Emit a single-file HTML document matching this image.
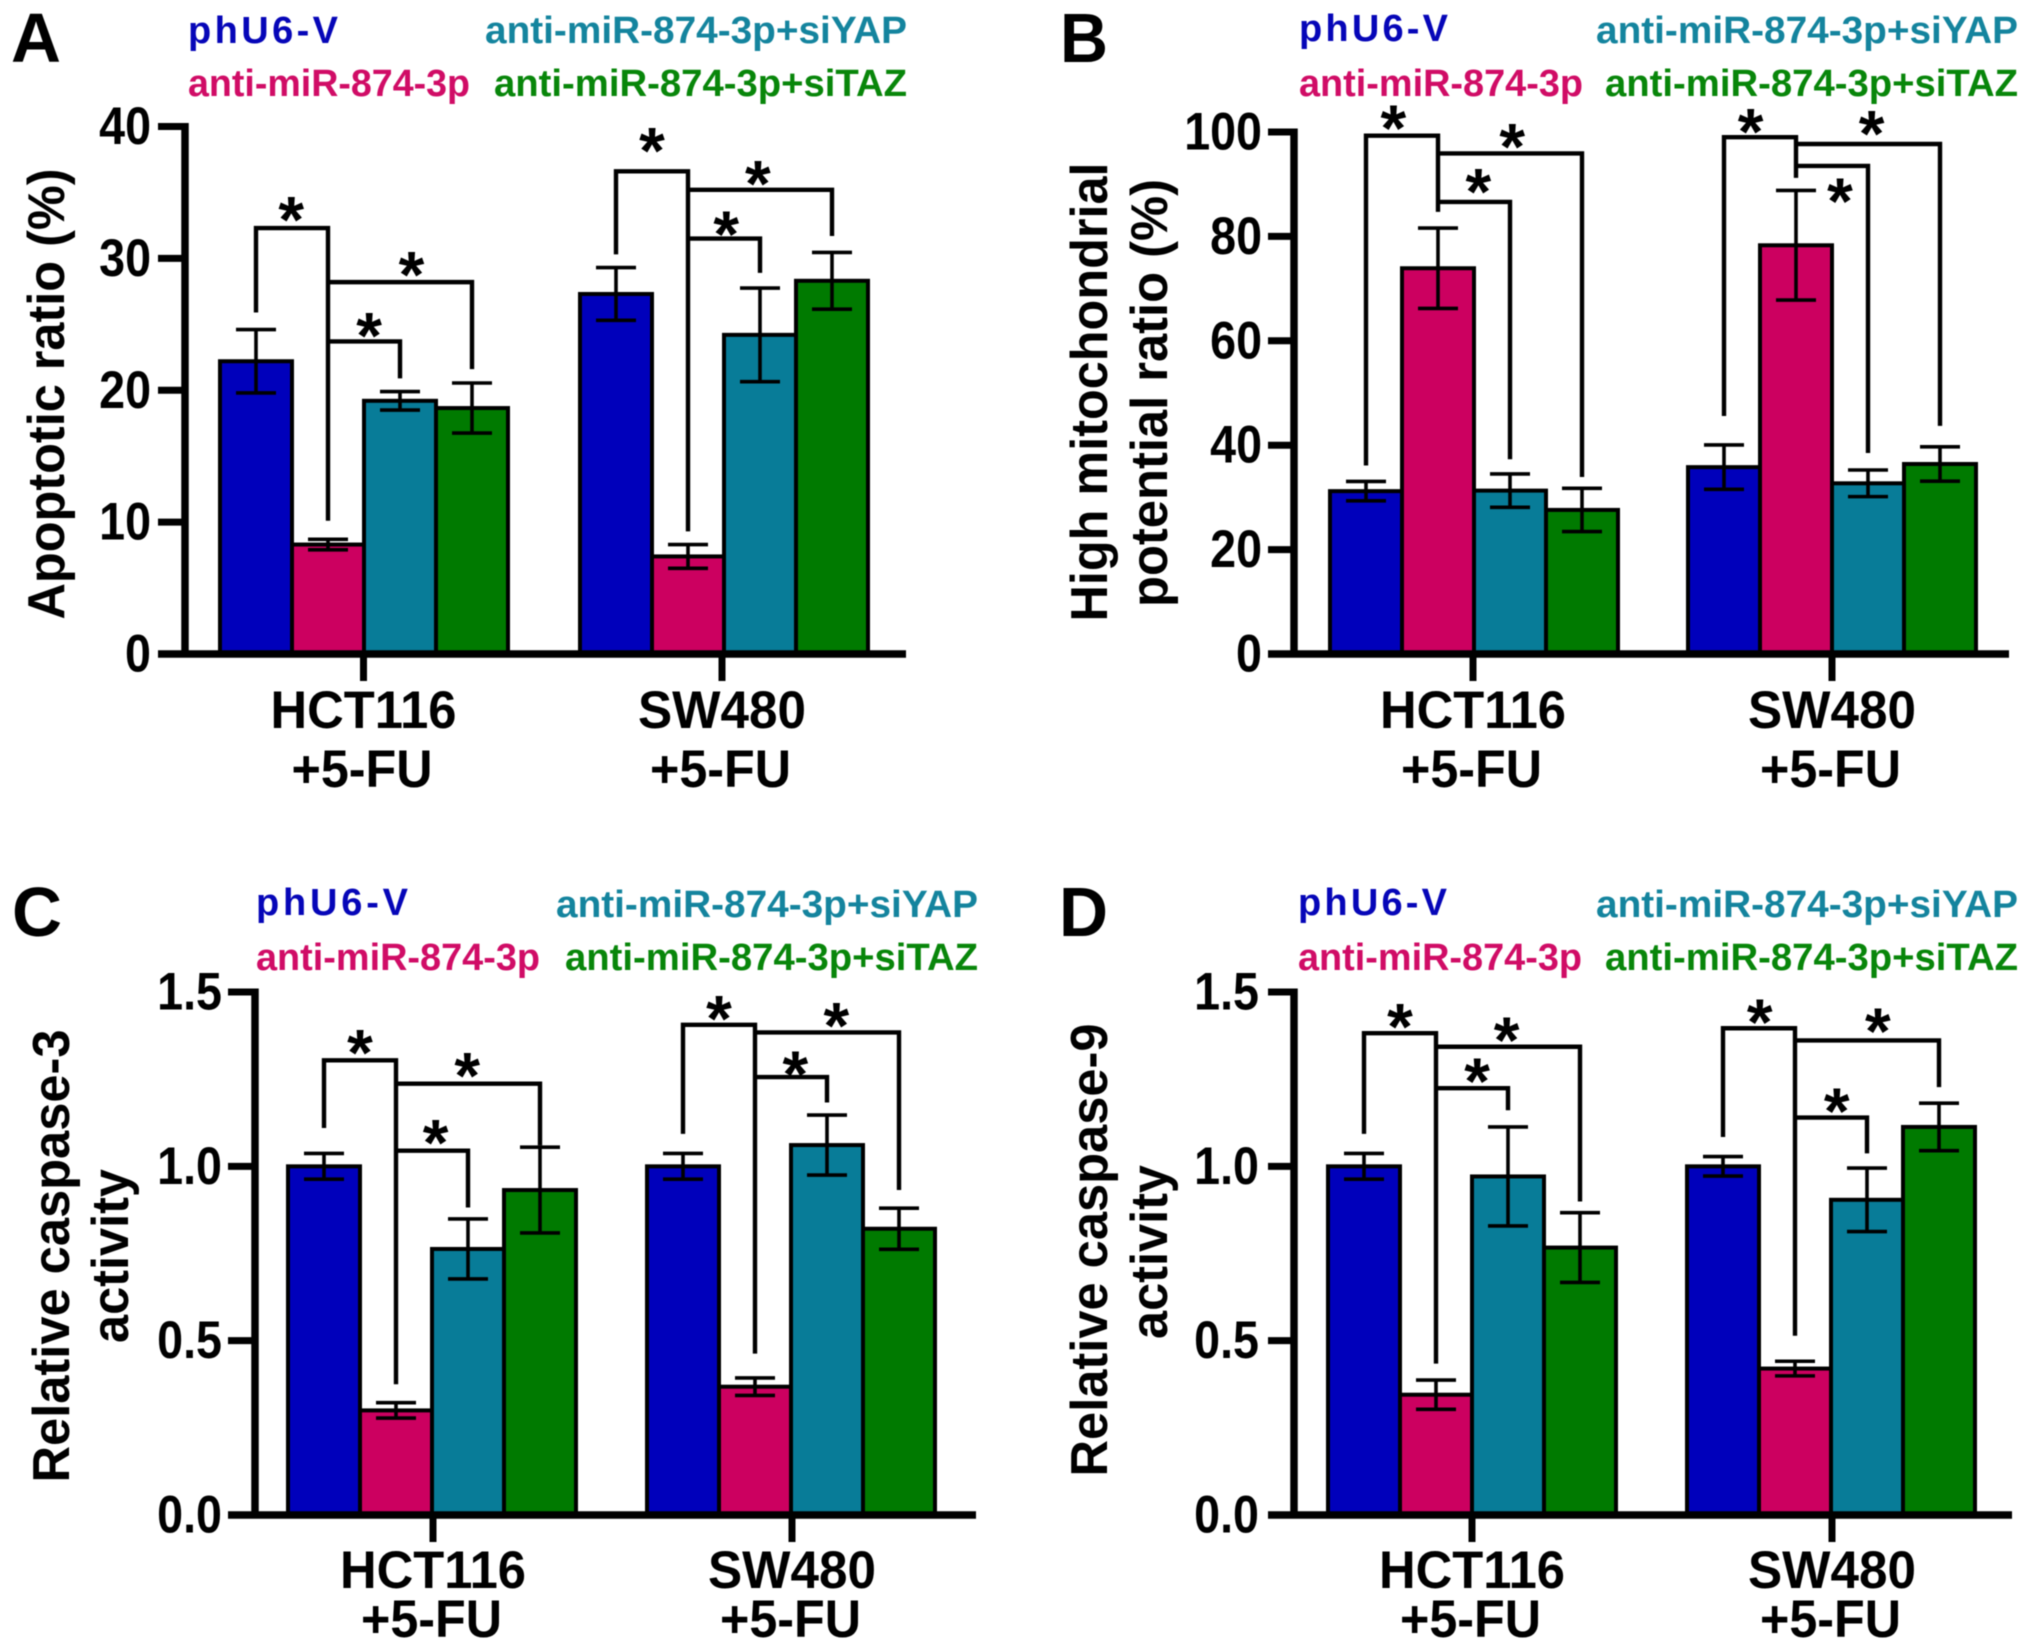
<!DOCTYPE html>
<html lang="en">
<head>
<meta charset="utf-8">
<title>Apoptosis, mitochondrial potential and caspase activity bar charts</title>
<style>
html,body{margin:0;padding:0;background:#fff;}
svg{display:block;font-family:"Liberation Sans",sans-serif;font-weight:700;filter:blur(0.6px);}
.letter{font-size:70px;fill:#000;}
.leg{font-size:38px;}
.blue{fill:#0606b8;}
.pink{fill:#d00c66;}
.teal{fill:#14849e;}
.green{fill:#08860a;}
.ytitle{font-size:52px;fill:#000;text-anchor:middle;}
</style>
</head>
<body>
<svg id="fig" xmlns="http://www.w3.org/2000/svg" width="2031" height="1650" viewBox="0 0 2031 1650">
  <rect width="2031" height="1650" fill="#fff"/>

  <g id="panel-a">
    <text class="letter" x="11" y="62" textLength="50" lengthAdjust="spacingAndGlyphs">A</text>
    <text class="leg blue" x="188" y="43" textLength="150" lengthAdjust="spacing">phU6-V</text>
    <text class="leg pink" x="188" y="96" textLength="282" lengthAdjust="spacingAndGlyphs">anti-miR-874-3p</text>
    <text class="leg teal" x="485" y="43" textLength="422" lengthAdjust="spacingAndGlyphs">anti-miR-874-3p+siYAP</text>
    <text class="leg green" x="494" y="96" textLength="413" lengthAdjust="spacingAndGlyphs">anti-miR-874-3p+siTAZ</text>
    <text class="ytitle" transform="translate(64,394) rotate(-90)" textLength="451" lengthAdjust="spacingAndGlyphs">Apoptotic ratio (%)</text>
  </g>

  <g id="panel-b">
    <text class="letter" x="1060" y="62" textLength="48" lengthAdjust="spacingAndGlyphs">B</text>
    <text class="leg blue" x="1299" y="41" textLength="149" lengthAdjust="spacing">phU6-V</text>
    <text class="leg pink" x="1299" y="96" textLength="284" lengthAdjust="spacingAndGlyphs">anti-miR-874-3p</text>
    <text class="leg teal" x="1596" y="43" textLength="422" lengthAdjust="spacingAndGlyphs">anti-miR-874-3p+siYAP</text>
    <text class="leg green" x="1605" y="96" textLength="413" lengthAdjust="spacingAndGlyphs">anti-miR-874-3p+siTAZ</text>
    <text class="ytitle" transform="translate(1107,392) rotate(-90)" textLength="459" lengthAdjust="spacingAndGlyphs">High mitochondrial</text>
    <text class="ytitle" transform="translate(1167,393) rotate(-90)" textLength="428" lengthAdjust="spacingAndGlyphs">potential ratio (%)</text>
  </g>

  <g id="panel-c">
    <text class="letter" x="12" y="936" textLength="50" lengthAdjust="spacingAndGlyphs">C</text>
    <text class="leg blue" x="256" y="915" textLength="152" lengthAdjust="spacing">phU6-V</text>
    <text class="leg pink" x="256" y="970" textLength="284" lengthAdjust="spacingAndGlyphs">anti-miR-874-3p</text>
    <text class="leg teal" x="556" y="917" textLength="422" lengthAdjust="spacingAndGlyphs">anti-miR-874-3p+siYAP</text>
    <text class="leg green" x="565" y="970" textLength="413" lengthAdjust="spacingAndGlyphs">anti-miR-874-3p+siTAZ</text>
    <text class="ytitle" transform="translate(69,1256) rotate(-90)" textLength="453" lengthAdjust="spacingAndGlyphs">Relative caspase-3</text>
    <text class="ytitle" transform="translate(128,1256) rotate(-90)" textLength="174" lengthAdjust="spacingAndGlyphs">activity</text>
  </g>

  <g id="panel-d">
    <text class="letter" x="1059" y="936" textLength="49" lengthAdjust="spacingAndGlyphs">D</text>
    <text class="leg blue" x="1298" y="915" textLength="149" lengthAdjust="spacing">phU6-V</text>
    <text class="leg pink" x="1298" y="970" textLength="284" lengthAdjust="spacingAndGlyphs">anti-miR-874-3p</text>
    <text class="leg teal" x="1596" y="917" textLength="422" lengthAdjust="spacingAndGlyphs">anti-miR-874-3p+siYAP</text>
    <text class="leg green" x="1605" y="970" textLength="413" lengthAdjust="spacingAndGlyphs">anti-miR-874-3p+siTAZ</text>
    <text class="ytitle" transform="translate(1107,1250) rotate(-90)" textLength="453" lengthAdjust="spacingAndGlyphs">Relative caspase-9</text>
    <text class="ytitle" transform="translate(1167,1252) rotate(-90)" textLength="174" lengthAdjust="spacingAndGlyphs">activity</text>
  </g>
</svg>

<script>
/* ---------- shared categories ---------- */
const categories = ['HCT116', 'SW480'];
const categorySubLabel = '+5-FU';
const barColors = ['#0000bb', '#cc0060', '#087c98', '#007a00'];

/* ---------- panel A: apoptotic ratio ---------- */
const apoptosisTicks = [0, 10, 20, 30, 40];
const apoptosisTickLabels = ['0', '10', '20', '30', '40'];
const apoptosisHct = [22.2, 8.3, 19.2, 18.65];
const apoptosisHctErr = [2.4, 0.4, 0.7, 1.9];
const apoptosisSw = [27.3, 7.4, 24.2, 28.3];
const apoptosisSwErr = [2.0, 0.9, 3.55, 2.15];
const apoptosisHctBracketLevels = [32.3, 23.7, 28.2];
const apoptosisHctBracketEnds = [[25.9, 10.1], [23.7, 20.9], [28.2, 21.6]];
const apoptosisHctStarLevels = [33.8, 25.0, 29.6];
const apoptosisHctStarAt = [0.49, 1.57, 2.16];
const apoptosisSwBracketLevels = [36.6, 31.5, 35.2];
const apoptosisSwBracketEnds = [[30.3, 9.3], [31.5, 28.9], [35.2, 31.7]];
const apoptosisSwStarLevels = [39.0, 32.7, 36.5];
const apoptosisSwStarAt = [0.5, 1.53, 1.97];

/* ---------- panel B: mitochondrial potential ---------- */
const mitoTicks = [0, 20, 40, 60, 80, 100];
const mitoTickLabels = ['0', '20', '40', '60', '80', '100'];
const mitoHct = [31.2, 73.9, 31.3, 27.6];
const mitoHctErr = [1.85, 7.7, 3.2, 4.15];
const mitoSw = [35.8, 78.3, 32.7, 36.4];
const mitoSwErr = [4.25, 10.5, 2.55, 3.3];
const mitoHctBracketLevels = [99.3, 86.6, 95.9];
const mitoHctBracketEnds = [[36.1, 84.7], [86.6, 37.3], [95.9, 33.9]];
const mitoHctStarLevels = [102.9, 90.7, 99.3];
const mitoHctStarAt = [0.38, 1.56, 2.03];
const mitoSwBracketLevels = [99.0, 93.5, 97.7];
const mitoSwBracketEnds = [[45.6, 91.2], [93.5, 38.5], [97.7, 43.7]];
const mitoSwStarLevels = [102.2, 88.9, 101.8];
const mitoSwStarAt = [0.37, 1.61, 2.05];

/* ---------- panel C: caspase-3 ---------- */
const caspaseTicks = [0, 0.5, 1, 1.5];
const caspaseTickLabels = ['0.0', '0.5', '1.0', '1.5'];
const casp3Hct = [1.0, 0.30, 0.763, 0.932];
const casp3HctErr = [0.037, 0.022, 0.086, 0.123];
const casp3Sw = [1.0, 0.368, 1.061, 0.821];
const casp3SwErr = [0.037, 0.025, 0.086, 0.059];
const casp3HctBracketLevels = [1.304, 1.045, 1.237];
const casp3HctBracketEnds = [[1.11, 0.375], [1.045, 0.882], [1.237, 1.06]];
const casp3HctStarLevels = [1.358, 1.10, 1.292];
const casp3HctStarAt = [0.5, 1.55, 1.99];
const casp3SwBracketLevels = [1.406, 1.256, 1.384];
const casp3SwBracketEnds = [[1.093, 0.463], [1.256, 1.183], [1.384, 0.932]];
const casp3SwStarLevels = [1.456, 1.296, 1.435];
const casp3SwStarAt = [0.5, 1.56, 2.13];

/* ---------- panel D: caspase-9 ---------- */
const casp9Hct = [1.0, 0.345, 0.971, 0.767];
const casp9HctErr = [0.037, 0.042, 0.142, 0.10];
const casp9Sw = [1.0, 0.42, 0.904, 1.113];
const casp9SwErr = [0.028, 0.021, 0.091, 0.068];
const casp9HctBracketLevels = [1.382, 1.224, 1.343];
const casp9HctBracketEnds = [[1.093, 0.434], [1.224, 1.161], [1.343, 0.899]];
const casp9HctStarLevels = [1.433, 1.277, 1.394];
const casp9HctStarAt = [0.5, 1.57, 1.98];
const casp9SwBracketLevels = [1.396, 1.14, 1.361];
const casp9SwBracketEnds = [[1.084, 0.514], [1.14, 1.037], [1.361, 1.227]];
const casp9SwStarLevels = [1.445, 1.19, 1.42];
const casp9SwStarAt = [0.51, 1.58, 2.15];

/* ---------- drawing ---------- */
const NS = 'http://www.w3.org/2000/svg';

function shape(parent, tag, attrs) {
  const el = document.createElementNS(NS, tag);
  for (const k in attrs) el.setAttribute(k, attrs[k]);
  parent.appendChild(el);
  return el;
}

function drawGroup(g, p, start, values, errs, levels, ends, starLevels, starAt, catIdx) {
  const y = p.y;
  const cx = function (i) { return start + p.barW * (i + 0.5); };

  values.forEach(function (v, i) {
    const bar = shape(g, 'rect', {x: start + p.barW * i, y: y(v), width: p.barW, height: p.y0 - y(v), fill: barColors[i], stroke: '#000', 'stroke-width': 4});
    
    
  });

  values.forEach(function (v, i) {
    const hi = y(v + errs[i]);
    const lo = y(v - errs[i]);
    const x = cx(i);
    const err = shape(g, 'path', {d: 'M' + x + ' ' + hi + 'V' + lo + 'M' + (x - 20) + ' ' + hi + 'H' + (x + 20) + 'M' + (x - 20) + ' ' + lo + 'H' + (x + 20), fill: 'none', stroke: '#000', 'stroke-width': 3.6});
    
    
  });

  const spans = [[0, 1], [1, 2], [1, 3]];
  spans.forEach(function (s, i) {
    const x0 = cx(s[0]);
    const x1 = cx(s[1]);
    const d = 'M' + x0 + ' ' + y(ends[i][0]) + 'V' + y(levels[i]) + 'H' + x1 + 'V' + y(ends[i][1]);
    const br = shape(g, 'path', {d: d, fill: 'none', stroke: '#000', 'stroke-width': 4.4});
    
    

    const star = shape(g, 'text', {x: start + p.barW * (starAt[i] + 0.5), y: y(starLevels[i]) + 34, 'text-anchor': 'middle', 'font-size': 66, fill: '#000'});
    
    
    star.textContent = '*';
  });
}

function drawPanel(p) {
  const g = document.getElementById(p.id);
  p.y = function (v) { return p.y0 - (v / p.yMax) * (p.y0 - p.yTop); };

  drawGroup(g, p, p.starts[0], p.hct, p.hctErr, p.hctLevels, p.hctEnds, p.hctStarLevels, p.hctStarAt, 0);
  drawGroup(g, p, p.starts[1], p.sw, p.swErr, p.swLevels, p.swEnds, p.swStarLevels, p.swStarAt, 1);

  const yAxis = shape(g, 'line', {x1: p.axisX, x2: p.axisX, y1: p.yTop - 3.5, y2: p.y0, stroke: '#000', 'stroke-width': 7.5});
  
  

  const xAxis = shape(g, 'line', {x1: p.tickLeft, x2: p.xEnd, y1: p.y0, y2: p.y0, stroke: '#000', 'stroke-width': 7.5});
  
  

  p.ticks.forEach(function (t, i) {
    const tick = shape(g, 'line', {x1: p.tickLeft, x2: p.axisX, y1: p.y(t), y2: p.y(t), stroke: '#000', 'stroke-width': 7});
    
    

    const label = shape(g, 'text', {transform: 'translate(' + p.labelRight + ',' + (p.y(t) + 17.5) + ') scale(0.88,1)', 'text-anchor': 'end', 'font-size': 53, fill: '#000'});
    
    
    label.textContent = p.tickLabels[i];
  });

  categories.forEach(function (c, i) {
    const tx = p.xTicks[i];
    const tick = shape(g, 'line', {x1: tx, x2: tx, y1: p.y0, y2: p.y0 + 27, stroke: '#000', 'stroke-width': 7});
    
    

    const name = shape(g, 'text', {x: tx, y: p.line1, 'text-anchor': 'middle', 'font-size': 53, fill: '#000', textLength: p.catWidths[i], lengthAdjust: 'spacingAndGlyphs'});
    
    
    name.textContent = c;

    const sub = shape(g, 'text', {x: tx - 1.5, y: p.line2, 'text-anchor': 'middle', 'font-size': 53, fill: '#000', textLength: 141, lengthAdjust: 'spacingAndGlyphs'});
    
    
    sub.textContent = categorySubLabel;
  });
}

drawPanel({
  id: 'panel-a', axisX: 185, y0: 654, yTop: 126.5, yMax: 40, tickLeft: 158, xEnd: 906, labelRight: 151,
  starts: [220, 580], barW: 72, xTicks: [363.5, 722], catWidths: [186, 168], line1: 728, line2: 787,
  ticks: apoptosisTicks, tickLabels: apoptosisTickLabels,
  hct: apoptosisHct, hctErr: apoptosisHctErr, sw: apoptosisSw, swErr: apoptosisSwErr,
  hctLevels: apoptosisHctBracketLevels, hctEnds: apoptosisHctBracketEnds, hctStarLevels: apoptosisHctStarLevels, hctStarAt: apoptosisHctStarAt,
  swLevels: apoptosisSwBracketLevels, swEnds: apoptosisSwBracketEnds, swStarLevels: apoptosisSwStarLevels, swStarAt: apoptosisSwStarAt
});

drawPanel({
  id: 'panel-b', axisX: 1294, y0: 654, yTop: 132, yMax: 100, tickLeft: 1268, xEnd: 2009, labelRight: 1262,
  starts: [1330, 1688], barW: 72, xTicks: [1473, 1832], catWidths: [186, 168], line1: 728, line2: 787,
  ticks: mitoTicks, tickLabels: mitoTickLabels,
  hct: mitoHct, hctErr: mitoHctErr, sw: mitoSw, swErr: mitoSwErr,
  hctLevels: mitoHctBracketLevels, hctEnds: mitoHctBracketEnds, hctStarLevels: mitoHctStarLevels, hctStarAt: mitoHctStarAt,
  swLevels: mitoSwBracketLevels, swEnds: mitoSwBracketEnds, swStarLevels: mitoSwStarLevels, swStarAt: mitoSwStarAt
});

drawPanel({
  id: 'panel-c', axisX: 255, y0: 1515, yTop: 992, yMax: 1.5, tickLeft: 228, xEnd: 976, labelRight: 222,
  starts: [288, 647], barW: 72, xTicks: [433, 792], catWidths: [186, 168], line1: 1588, line2: 1637,
  ticks: caspaseTicks, tickLabels: caspaseTickLabels,
  hct: casp3Hct, hctErr: casp3HctErr, sw: casp3Sw, swErr: casp3SwErr,
  hctLevels: casp3HctBracketLevels, hctEnds: casp3HctBracketEnds, hctStarLevels: casp3HctStarLevels, hctStarAt: casp3HctStarAt,
  swLevels: casp3SwBracketLevels, swEnds: casp3SwBracketEnds, swStarLevels: casp3SwStarLevels, swStarAt: casp3SwStarAt
});

drawPanel({
  id: 'panel-d', axisX: 1294, y0: 1515, yTop: 992, yMax: 1.5, tickLeft: 1268, xEnd: 2012, labelRight: 1259,
  starts: [1328, 1687], barW: 72, xTicks: [1472, 1832], catWidths: [186, 168], line1: 1588, line2: 1637,
  ticks: caspaseTicks, tickLabels: caspaseTickLabels,
  hct: casp9Hct, hctErr: casp9HctErr, sw: casp9Sw, swErr: casp9SwErr,
  hctLevels: casp9HctBracketLevels, hctEnds: casp9HctBracketEnds, hctStarLevels: casp9HctStarLevels, hctStarAt: casp9HctStarAt,
  swLevels: casp9SwBracketLevels, swEnds: casp9SwBracketEnds, swStarLevels: casp9SwStarLevels, swStarAt: casp9SwStarAt
});
</script>
</body>
</html>
